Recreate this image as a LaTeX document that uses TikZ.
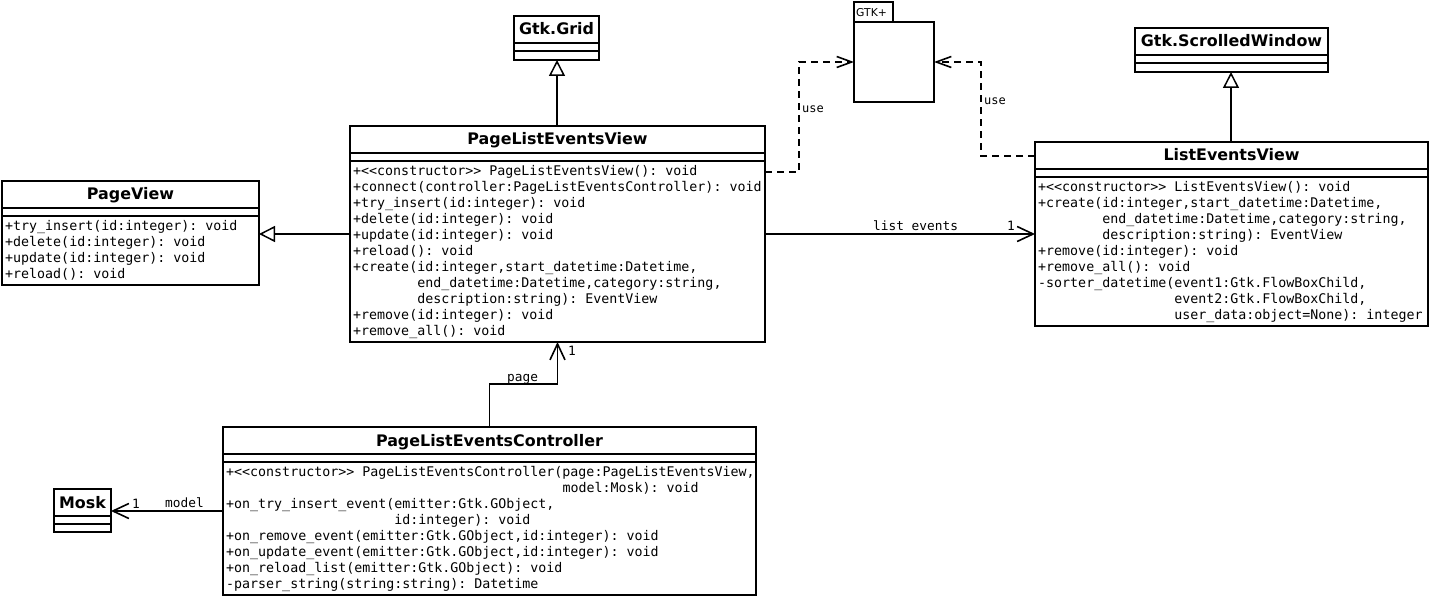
\documentclass[tikz,border=0pt]{standalone}
\usepackage{fontspec}
\setsansfont{DejaVu Sans}
\setmonofont{DejaVu Sans Mono}
\usetikzlibrary{arrows.meta,calc}
\newcommand\indn[1]{\hspace*{#1\fontcharwd\font`\x}}
\newcommand\umlbox[7]{%
  \node[classbox, minimum width={#4-#2}, minimum height={#5-#3}, anchor=north west] (#1) at (#2,#3) {};
  \draw[classline] (#2,#3+27) -- (#4,#3+27) (#2,#3+35) -- (#4,#3+35);
  \node[titletext, anchor=base] (#1-title) at ({(#2+#4)/2},#3+19) {#6};
  \foreach \m [count=\i from 0] in {#7} {
    \node[membertext, anchor=base west] (#1-m\i) at (#2+3,{#3+49.5+16*\i}) {\m};
  }%
}
\begin{document}
\begin{tikzpicture}[x=1pt,y=-1pt,
  classbox/.style={draw, line width=1.5pt, inner sep=0pt, outer sep=0pt, fill=white},
  classline/.style={line width=1.5pt},
  titletext/.style={font=\sffamily\bfseries\fontsize{15.9}{18}\selectfont, inner sep=0pt},
  membertext/.style={font=\ttfamily\fontsize{13.3}{16}\selectfont, inner sep=0pt},
  lbl/.style={font=\ttfamily\fontsize{12.8}{15}\selectfont, inner sep=0pt},
  uselbl/.style={font=\ttfamily\fontsize{12}{14}\selectfont, inner sep=0pt},
  gen/.style={line width=2pt, -{Triangle[open, length=16pt, width=16pt, line width=1.5pt]}},
  assoc/.style={line width=1.6pt, -{Straight Barb[length=16pt, width=15pt]}},
  dep/.style={line width=1.6pt, dash pattern=on 7pt off 5pt, -{Straight Barb[length=15pt, width=11pt]}},
]
\fill[white] (0,0) rectangle (1430,596);
\useasboundingbox (0,0) rectangle (1430,596);

\umlbox{grid}{514}{16}{599}{60}{Gtk.Grid}{}
\umlbox{sw}{1135}{28}{1328}{72}{Gtk.ScrolledWindow}{}
\umlbox{mosk}{54}{489}{111}{532}{Mosk}{}
\umlbox{pv}{2}{181}{259}{285}{PageView}{%
  {+try\_insert(id:integer): void},
  {+delete(id:integer): void},
  {+update(id:integer): void},
  {+reload(): void}}
\umlbox{plev}{350}{126}{765}{342}{PageListEventsView}{%
  {+<<constructor>> PageListEventsView(): void},
  {+connect(controller:PageListEventsController): void},
  {+try\_insert(id:integer): void},
  {+delete(id:integer): void},
  {+update(id:integer): void},
  {+reload(): void},
  {+create(id:integer,start\_datetime:Datetime,},
  {\indn{8}end\_datetime:Datetime,category:string,},
  {\indn{8}description:string): EventView},
  {+remove(id:integer): void},
  {+remove\_all(): void}}
\umlbox{lev}{1035}{142}{1428}{326}{ListEventsView}{%
  {+<<constructor>> ListEventsView(): void},
  {+create(id:integer,start\_datetime:Datetime,},
  {\indn{8}end\_datetime:Datetime,category:string,},
  {\indn{8}description:string): EventView},
  {+remove(id:integer): void},
  {+remove\_all(): void},
  {-sorter\_datetime(event1:Gtk.FlowBoxChild,},
  {\indn{17}event2:Gtk.FlowBoxChild,},
  {\indn{17}user\_data:object=None): integer}}
\umlbox{ctrl}{223}{427}{756}{595}{PageListEventsController}{%
  {+<<constructor>> PageListEventsController(page:PageListEventsView,},
  {\indn{42}model:Mosk): void},
  {+on\_try\_insert\_event(emitter:Gtk.GObject,},
  {\indn{21}id:integer): void},
  {+on\_remove\_event(emitter:Gtk.GObject,id:integer): void},
  {+on\_update\_event(emitter:Gtk.GObject,id:integer): void},
  {+on\_reload\_list(emitter:Gtk.GObject): void},
  {-parser\_string(string:string): Datetime}}

% GTK+ package
\node[classbox, minimum width=39, minimum height=20, anchor=north west] (gtktab) at (854,2) {};
\node[classbox, minimum width=80, minimum height=80, anchor=north west] (gtk) at (854,22) {};
\node[font=\sffamily\fontsize{10.8}{12}\selectfont, inner sep=0pt, anchor=base west] (gtklbl) at (856,16.5) {GTK+};

% generalizations
\draw[gen] ([xshift=-0.5pt]plev.north) -- ([xshift=-0.5pt]plev.north |- grid.south);
\draw[gen] (plev.west) -- (plev.west -| pv.east);
\draw[gen] ([xshift=-0.5pt]lev.north) -- ([xshift=-0.5pt]lev.north |- sw.south);

% associations
\draw[assoc] (plev.east) -- (plev.east -| lev.west);
\node[lbl, anchor=base west] (le) at (873,231) {list events};
\node[lbl, anchor=base west] (le1) at (1007,231) {1};
\draw[assoc] (ctrl.north) -- ++(0,-43) -| (plev.south);
\node[lbl, anchor=base west] (pg) at (507,381) {page};
\node[lbl, anchor=base west] (pg1) at (568,355) {1};
\draw[assoc] (ctrl.west) -- (ctrl.west -| mosk.east);
\node[lbl, anchor=base west] (md) at (165,507) {model};
\node[lbl, anchor=base west] (md1) at (132,508) {1};

% dependencies
\draw[dep] ([yshift=-46pt]plev.north east) -- ++(34,0) |- (gtk.west);
\node[uselbl, anchor=base west] (u1) at (802,113) {use};
\draw[dep] ([yshift=-14pt]lev.north west) -- ++(-54,0) |- (gtk.east);
\node[uselbl, anchor=base west] (u2) at (984,105) {use};
\end{tikzpicture}
\end{document}
